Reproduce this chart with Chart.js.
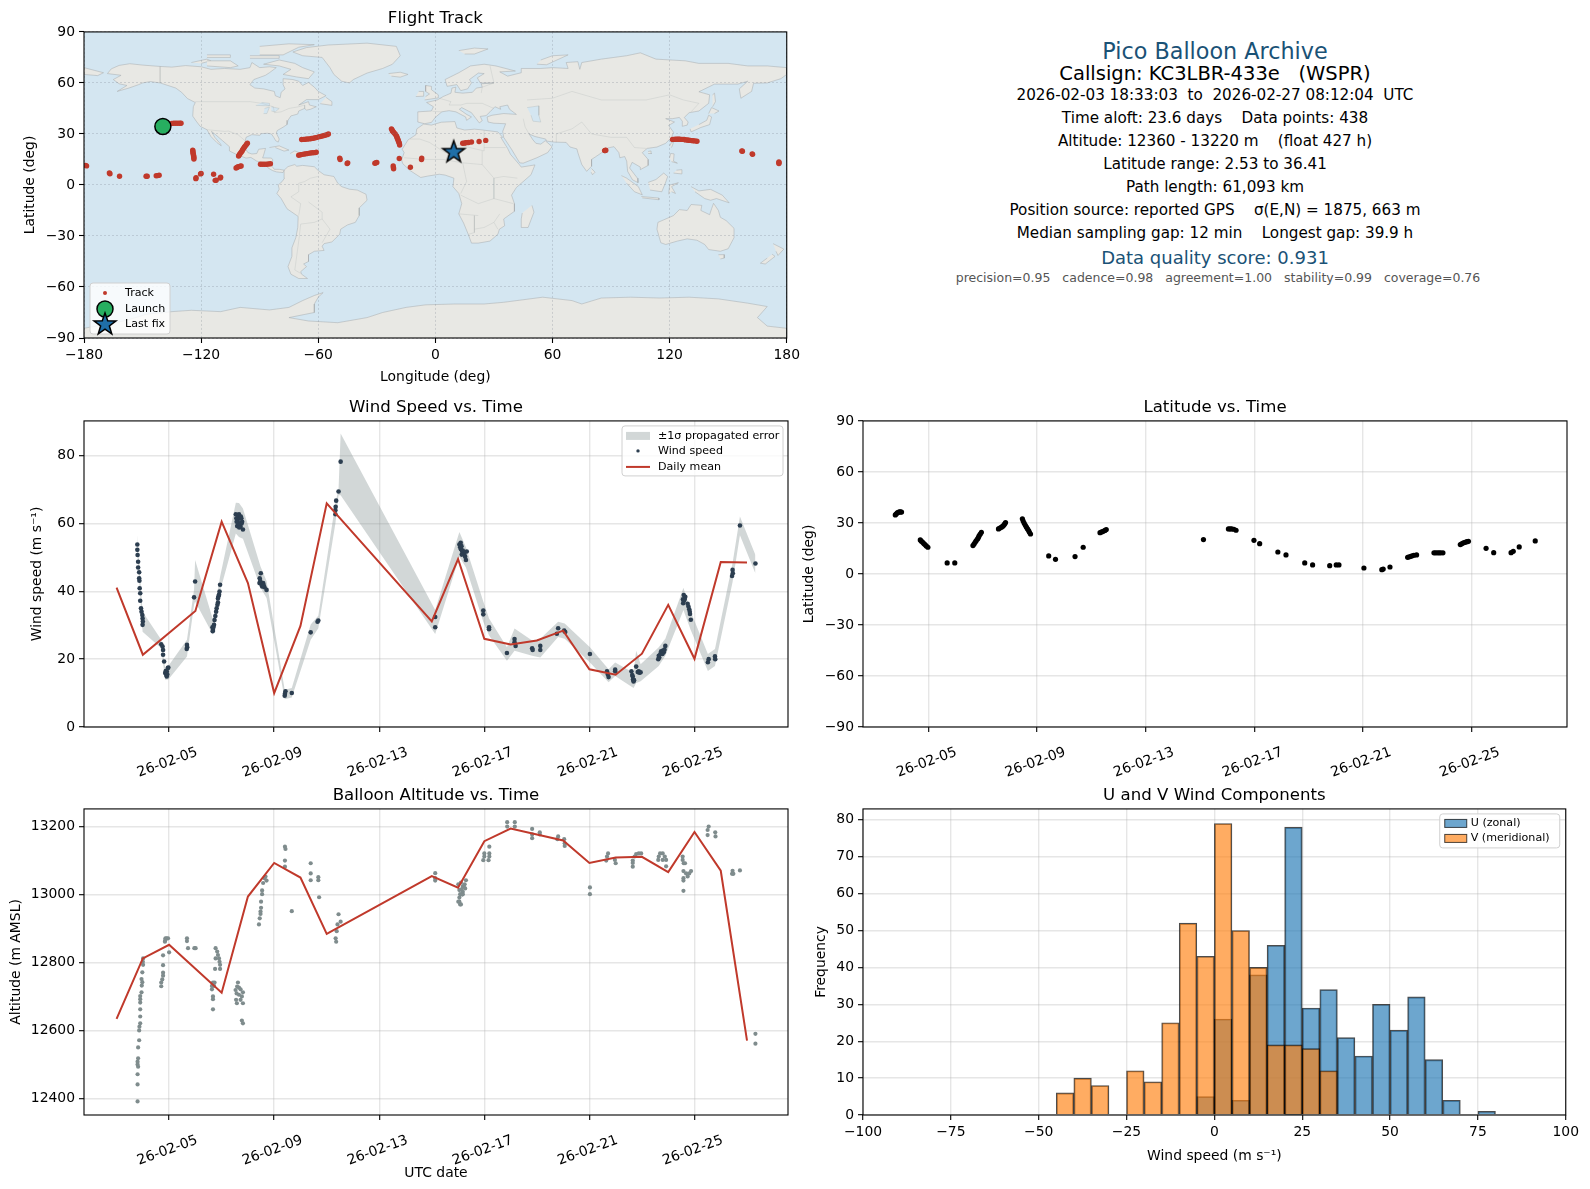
<!DOCTYPE html>
<html>
<head>
<meta charset="utf-8">
<title>Pico Balloon Archive</title>
<script src="https://cdn.jsdelivr.net/npm/chart.js"></script>
<style>
  html, body { margin: 0; padding: 0; background: #fff; }
  #page { position: relative; width: 1590px; height: 1189px; overflow: hidden; font-family: "DejaVu Sans", sans-serif; }
  canvas { position: absolute; }
  .info { position: absolute; left: 815px; width: 800px; text-align: center; white-space: pre; transform: translateY(-50%); line-height: 1; color: #000; }
</style>
</head>
<body>
<div id="page">
  <canvas id="mapChart"></canvas>
  <canvas id="windChart"></canvas>
  <canvas id="latChart"></canvas>
  <canvas id="altChart"></canvas>
  <canvas id="histChart"></canvas>
  <div class="info" style="top:51px;font-size:22.3px;color:#1a5276">Pico Balloon Archive</div>
  <div class="info" style="top:74px;font-size:19.5px">Callsign: KC3LBR-433e   (WSPR)</div>
  <div class="info" style="top:96px;font-size:15.2px">2026-02-03 18:33:03  to  2026-02-27 08:12:04  UTC</div>
  <div class="info" style="top:119px;font-size:15.2px">Time aloft: 23.6 days    Data points: 438</div>
  <div class="info" style="top:142px;font-size:15.2px">Altitude: 12360 - 13220 m    (float 427 h)</div>
  <div class="info" style="top:165px;font-size:15.2px">Latitude range: 2.53 to 36.41</div>
  <div class="info" style="top:188px;font-size:15.2px">Path length: 61,093 km</div>
  <div class="info" style="top:211px;font-size:15.2px">Position source: reported GPS    σ(E,N) = 1875, 663 m</div>
  <div class="info" style="top:234px;font-size:15.2px">Median sampling gap: 12 min    Longest gap: 39.9 h</div>
  <div class="info" style="top:257.5px;font-size:18px;color:#1a5276">Data quality score: 0.931</div>
  <div class="info" style="top:278px;margin-left:3px;font-size:12.5px;color:#555">precision=0.95   cadence=0.98   agreement=1.00   stability=0.99   coverage=0.76</div>
</div>
<script>
// times are day of February 2026 (5.5 = Feb 5, 12:00)
const dateTicks = [5, 9, 13, 17, 21, 25];
const dateTickLabels = ['26-02-05', '26-02-09', '26-02-13', '26-02-17', '26-02-21', '26-02-25'];
const lonTicks = [-180, -120, -60, 0, 60, 120, 180];
const latTicks = [-90, -60, -30, 0, 30, 60, 90];
const windTicks = [0, 20, 40, 60, 80];
const altTicks = [12400, 12600, 12800, 13000, 13200];
const histXTicks = [-100, -75, -50, -25, 0, 25, 50, 75, 100];
const histYTicks = [0, 10, 20, 30, 40, 50, 60, 70, 80];

// flight track, [lon, lat]
const launchFix = [-139.6, 34.4];
const lastFix = [9.4, 19.6];
const trackFixes = [
  [-139.6,34.4],[-138,35.5],[-136.5,36],[-135,36.2],[-134,36.3],[-133,36.3],[-132,36.3],[-131,36.3],[-130.3,36.3],
  [-124.3,20.5],[-124.2,19.8],[-124.2,19],[-124,18.3],[-123.9,17.5],[-123.8,16.8],[-123.7,16],[-123.7,15.3],
  [-100.8,17],[-100.4,17.8],[-100,18.5],[-99.5,19.2],[-99,20],[-98.7,20.8],[-98.3,21.5],[-97.8,22.3],[-97.3,23],[-96.8,23.8],[-96.3,24.5],
  [-89.6,12.2],[-88.6,12.2],[-87.6,12.2],[-86.5,12.2],[-85.5,12.3],[-84.5,12.5],
  [-102.1,10],[-101.5,10.4],[-101,10.7],[-100,11],[-99.5,11.2],
  [-68.5,26.7],[-67.5,26.8],[-66.5,26.9],[-65.5,27],[-64.5,27.1],[-63.5,27.3],[-62.5,27.5],[-61.5,27.8],[-60.5,28],[-59.5,28.4],[-58.5,28.6],[-57.5,28.9],[-56.5,29.2],[-55.5,29.6],[-54.8,30],
  [-70,17.5],[-69,17.8],[-68,18],[-67,18.2],[-66,18.4],[-65,18.6],[-64,18.8],[-63,18.9],[-62,19],[-61,19.2],
  [-49,15.8],[-48.8,15],[-45.2,12.6],[-44.9,13],[-31,12.8],[-30.5,13],[-30,13.2],
  [-22.5,33],[-22.2,32.4],[-22,31.8],[-21.5,31.2],[-21,30.5],[-20.5,29.8],[-20,29],[-19.7,28.2],[-19.5,27.5],[-19.2,26.7],[-19,26],[-18.7,25.2],[-18.5,24.5],[-18.3,23.5],
  [-21.6,11.2],[-21.5,10.2],[-21.4,9.5],[-18.5,15.6],[-12.8,10.4],[-7.1,15],[-7,15.8],
  [14,24.5],[14.8,24.6],[15.5,24.8],[16.3,24.9],[17,25],[18.5,25.3],[22.4,25.6],[25.8,26.2],
  [87,20.3],[86.7,20.2],[87.3,20.4],
  [121.5,26.8],[122.2,26.8],[123,26.9],[123.8,26.9],[124.5,26.9],[125.2,26.9],[126,26.8],[126.8,26.8],[127.5,26.7],[128.2,26.5],[129,26.4],[129.8,26.3],[130.5,26.2],[131.2,26.1],[132,26],[133,25.9],[134,25.7],
  [157.3,19.8],[157,20],[162.5,18],[162.3,18.3],[176,13.1],[176,12.6],[176,13.6],
  [-178.7,11.2],[-179.2,11.5],[-166.7,6.6],[-167,7.1],[-161.8,5.1],[-148.2,5.1],[-147.6,5.1],[-143,5.4],[-141.5,5.7],[-142.2,5.5],
  [-122.7,3.7],[-122.6,4.2],[-120.3,6.5],[-120,6.8],[-113.6,6.3],[-112.8,2.7],[-112.3,2.8],[-110,4.5],[-110.2,4.1]
];

// coastlines, [lon, lat]
const landNorthAmerica = [[-168,65.5],[-166,68.3],[-162,70.3],[-156.5,71.3],[-150,70.5],[-141,69.7],[-135,69.3],[-128,70.2],[-120,69.5],[-115,68],[-108,68.5],[-100,68],[-95,69],[-94,72],[-90,69],[-85,69.5],[-81.5,69],[-85,66],[-87,64.5],[-93,62],[-95,59],[-92.5,57],[-88,56.5],[-82.5,55],[-82,52.5],[-79.5,51.3],[-79,54.5],[-77,56.5],[-78,59],[-78,62.5],[-73,62],[-70,61],[-68,58.5],[-65,60.3],[-62,57.5],[-60,55],[-56,52.5],[-60,50.2],[-66,50.2],[-70,47],[-65,49],[-64.5,47],[-61,46],[-64,44.5],[-66,44],[-67,45],[-70,43.5],[-70.5,41.7],[-74,40.6],[-75.5,38],[-76,35.5],[-78,34],[-81,32],[-81.5,30.5],[-80,27],[-80.5,25.2],[-81.8,26],[-82.8,28],[-84,30],[-86,30.4],[-89,30.2],[-90,29.2],[-94,29.6],[-97,28],[-97.5,25],[-97.8,22.3],[-96,19],[-94,18.2],[-91.5,18.5],[-90.5,21],[-87,21.5],[-88,17.5],[-88.5,15.9],[-84,15.8],[-83.3,14.8],[-83.7,11],[-82.5,9.2],[-80,9.2],[-77.5,8.7],[-78,7.3],[-80,7.5],[-81.5,7.7],[-83.5,8.5],[-85.7,10],[-87.5,13],[-91.5,14],[-94.5,16.2],[-97,15.8],[-102,18],[-105.5,20],[-105.5,22.5],[-109,26],[-112.5,29.5],[-114.7,31.5],[-113,28],[-110,24],[-109.7,23],[-112,25],[-115,28.5],[-117,32.5],[-120.5,34.5],[-122.5,37.5],[-124.3,40.5],[-124,46],[-123,48.5],[-127,50.8],[-130,54.5],[-133,57],[-137,58.5],[-141,60],[-146,60.8],[-150,60],[-152,59],[-157,57],[-163,55],[-158,58.5],[-162,59.5],[-165,62],[-161,64.5],[-168,65.5]];
const landSouthAmerica = [[-77.5,8.7],[-75.5,10.8],[-72,12],[-71,11],[-68,11.5],[-62,10.7],[-60,8.5],[-57,6],[-52,5],[-50,1],[-48,-1],[-44,-2.5],[-40,-3],[-35.5,-5.5],[-35,-9],[-39,-13.5],[-39,-18],[-41,-22],[-45,-23.5],[-48.5,-26],[-49,-29],[-53,-33.5],[-57,-34.5],[-58,-36],[-57,-38.5],[-62,-39],[-65,-41],[-65,-45],[-67.5,-46.5],[-66,-48],[-69,-51],[-68.5,-52.5],[-65.5,-55],[-70,-55],[-74,-52.5],[-75.5,-48],[-73.5,-42],[-73.5,-37],[-71.5,-31],[-70.5,-25],[-70.3,-18.5],[-76,-14],[-79,-8],[-81.2,-5],[-80,-2.5],[-80.5,0],[-78.5,2],[-77.3,4],[-77.5,7],[-77.5,8.7]];
const landAfrica = [[-6,35.8],[-2,35.2],[3,36.9],[10,37.3],[11,33.5],[15,32.3],[20,32.8],[23,32.5],[32,31.2],[34.5,28],[33.5,28],[37,21.5],[38.5,18],[43,12],[44,10.5],[51,11.8],[49,6],[41.5,-1.5],[39,-6],[40.5,-11],[40.5,-15.5],[35,-20],[35.5,-24],[32.8,-26],[32,-29],[28,-33],[22,-34.2],[18.5,-34.2],[17,-29.5],[14.5,-22.5],[12,-17],[13.5,-11],[12,-5],[9,-1],[9.5,4],[5,5.8],[2,6.3],[-4,5.2],[-7.5,4.4],[-13,8.5],[-16.7,12.5],[-17.3,14.7],[-16,19],[-17,21],[-14,26.5],[-10,29.5],[-9.5,33],[-6,35.8]];
const landEurasia = [[-9,37],[-9,43],[-2,43.5],[-1,46],[-4.5,48.5],[1,50],[4,52],[8,54],[8.5,57],[10.5,57.5],[10,54.5],[14,54],[19,54.5],[21,57],[24,57.5],[23.5,59.5],[30,60],[23,60],[21.5,63],[25,65.5],[22,65.8],[17.5,62],[18.5,60],[16.5,56.5],[13,55.5],[11,59],[6,58],[5,62],[12,66],[18,70],[25,71],[31,70],[41,67],[33,66.5],[37,64],[44,66],[44,68.5],[54,68.5],[60,69],[68,68.5],[67,72],[73,72.5],[74,68],[75,72],[85,74],[98,76],[105,77.7],[113,74],[128,73],[135,71.5],[150,71.5],[160,70],[170,70],[180,69],[180,65],[177,62.5],[170,60],[163,59.8],[162,55],[156.5,51],[155.7,56.5],[160,61],[155,59.3],[143,59.3],[135,54.8],[140.5,53],[140,48],[135,43.5],[130,42.5],[127.5,39.7],[129.5,37],[129,35.2],[126.5,34.5],[126.5,37.5],[125,39.7],[121.5,39],[118,39],[122.5,37],[119.5,35],[122,31],[121,28],[118,24.5],[113.5,22.3],[108.5,21.5],[106,19],[109,15],[109,11.5],[105,9],[105,10.5],[100.8,13.3],[99.5,10],[103.5,4],[103.8,1.4],[101,3],[98.5,8],[98,14],[97,16.7],[94.5,16],[94,19],[91.5,22.5],[88.5,21.8],[86.5,20],[82,16.5],[80,15],[80,11],[77.5,8],[75,12],[73,19],[72.5,21.2],[69,22.3],[67,25],[61,25.2],[57,25.8],[56.5,27],[51,28.5],[48,30],[50,26.5],[51.5,24.5],[54,24],[56.3,26],[59.8,22.5],[57.5,19],[52,16],[45,12.8],[43.2,13],[39,21],[35,28],[34.5,31.5],[36,36],[30,36.3],[27,37],[26.5,40],[29,41],[35,42],[41.5,41.5],[38,44.5],[37,47],[33,46],[33.5,44.5],[30.5,46],[28,43],[26,40.8],[23,40.3],[24,37.8],[22.5,36.5],[19.5,41],[18.5,42.5],[13.5,45.5],[12.3,44.5],[16,41.5],[18.5,40],[16,38],[15.5,40],[10.5,43],[7,43.7],[3.3,43],[0,39.8],[-2,36.8],[-5.5,36],[-9,37]];
const landAustralia = [[114,-22],[113.5,-26],[115.5,-34],[118,-35],[124,-33],[129,-31.7],[134,-32.5],[138,-35],[140,-38],[146,-39],[150,-37.5],[153,-31],[153,-25.5],[149,-21],[146,-19],[145,-15],[142.5,-10.8],[141.5,-14],[140.5,-17.5],[136,-15],[136.5,-12],[131,-11.5],[129,-15],[125,-14.5],[122,-18],[117,-20.5],[114,-22]];
const landAntarctica = [[-180,-90],[-180,-84.3],[-160,-80],[-155,-78.5],[-148,-76],[-135,-74.5],[-125,-73.7],[-110,-74.5],[-100,-72],[-85,-73.5],[-75,-72],[-68,-68],[-62,-65],[-57.5,-63.3],[-60,-66],[-62,-70],[-62,-75],[-75,-78],[-65,-80],[-50,-81],[-35,-78],[-27,-75],[-15,-72],[-5,-70.5],[10,-70],[25,-70],[35,-69],[45,-67.5],[55,-66],[70,-68],[75,-70],[85,-66.5],[100,-66],[115,-66.5],[130,-66],[145,-67],[160,-69.5],[170,-71.5],[165,-78],[170,-83],[180,-84.3],[180,-90]];
const landIslands = [
  [[-73,78.2],[-66,80.8],[-55,82.3],[-35,83.4],[-20,81.5],[-18,76],[-22,71],[-27,68.5],[-35,65.8],[-42,62],[-44,60],[-48,61],[-52,65],[-54,69],[-58,75],[-68,76],[-73,78.2]],
  [[-80,73.5],[-72,71.5],[-68,69],[-62,66.5],[-65,62.5],[-71,63.5],[-78,65],[-74,68],[-80,70],[-88,71],[-80,73.5]],
  [[-117,70],[-105,69],[-101,70],[-105,73],[-117,73]],
  [[-125,72],[-117,74],[-115,73],[-120,71.5]],
  [[-90,76.5],[-78,76.5],[-70,81],[-62,82.5],[-75,83],[-90,81.5]],
  [[-95,74.5],[-80,74.5],[-80,76],[-95,76]],
  [[-117,75],[-105,75],[-105,76.5],[-117,76.5]],
  [[-59,47.8],[-53,46.8],[-53,49],[-56,51.5]],
  [[-85,22],[-80,23],[-75,20.5],[-77.5,19.9],[-82,22]],
  [[-74.4,18.5],[-72,20],[-68.5,18.5],[-71,18]],
  [[49.5,-12],[50.5,-16],[47.5,-25],[44,-25],[44,-20],[44.5,-16.5]],
  [[-5.5,50],[1.5,51.2],[1.5,53],[-2,56],[-2,58],[-5,58.5],[-5,55],[-3,53.5],[-5,52]],
  [[-10,52],[-6,52.2],[-6,55],[-8.5,55]],
  [[-24,65.5],[-18,66.3],[-14,65],[-18,63.4],[-22.5,64]],
  [[12,79],[20,80.5],[27,80],[20,77],[15,77]],
  [[52,71],[57,70.7],[68,76.5],[60,76],[54,73.5]],
  [[130.5,33],[131,31.2],[136,33.8],[140.5,35.5],[141.5,40],[140,41],[139,38],[135,35.5]],
  [[140,42],[141.5,45.5],[145.3,43.5],[143,42]],
  [[142,46],[143.5,49],[143,54],[142,53]],
  [[120,23],[121,25],[122,25],[121,22]],
  [[109,18.5],[110.8,18.5],[110.5,20],[109,19.7]],
  [[120,16],[120.5,18.5],[122.3,18.3],[122,14],[124,12.8],[121,13.7]],
  [[122,7],[126,6.5],[126.3,9],[123.5,8.7]],
  [[80,9.7],[81.8,7.5],[80.5,6],[79.8,7.5]],
  [[95.3,5.5],[98,4],[104,-1],[106,-5.8],[102,-4],[98,1]],
  [[105.5,-6.8],[114.5,-7.7],[114.5,-8.7],[106,-7.6]],
  [[109,1.5],[113,3.2],[117,7],[119,5],[117.8,1],[116,-4],[110,-3]],
  [[119.5,-5.5],[120,0],[124.5,1.3],[121,-1],[123,-5],[121,-4]],
  [[131,-1],[135,-3.5],[141,-2.6],[147,-6],[150.5,-10.5],[144,-8],[141,-9],[138,-8],[133,-4]],
  [[145,-41],[148,-41],[148,-43],[146,-43.5]],
  [[173,-34.5],[178.5,-37.7],[175.5,-41.5],[174.5,-39]],
  [[172.5,-40.7],[174,-42],[169,-46.5],[166.5,-46],[170,-43]],
  [[-180,69],[-175,67.5],[-170,66],[-173,64.3],[-180,65]]
];
const lakes = [
  [[47,45.5],[53,46.5],[53,41],[54,37],[50,37.5],[49,41]],
  [[-92,46.8],[-85,46.5],[-85,48],[-89,48.5]],
  [[-88,42],[-86.3,42],[-85,45.8],[-87.5,45]],
  [[-84,43.5],[-82,43],[-80,45],[-84,46]]
];
const borderLines = [
  [[-123,49],[-95,49],[-89,48],[-83,46],[-82.5,42.5],[-79,43],[-75,45],[-70,46],[-67,47],[-67,45]],
  [[-141,69.7],[-141,60]],
  [[-117,32.5],[-108,31.5],[-106,31.7],[-101,29.5],[-97.5,26]],
  [[-70,-18],[-69,-11],[-74,-7],[-70,-4],[-70,1],[-67,2],[-64,4],[-60,5]],
  [[-58,-20],[-62,-22],[-69,-23],[-70,-33],[-72,-50],[-69,-52]],
  [[-58,-20],[-58,-16],[-65,-10]],
  [[-58,-34],[-54,-26],[-58,-20]],
  [[3,43],[-1.5,43.3]],
  [[2,51],[8,49],[7,47],[13,47],[16,48],[24,48],[30,45]],
  [[28,70],[30,60],[24,57.5],[23.5,54]],
  [[47,50],[60,51],[70,55],[85,50],[98,50],[108,50],[120,53],[127,50],[135,48],[131,43]],
  [[75,37],[80,30],[90,28],[98,28],[102,22],[108,21.5]],
  [[62,25],[62,30],[70,33],[75,37]],
  [[45,39],[46,34],[48,30]],
  [[-13,27],[-8,27],[-3,25],[5,19],[12,23.5],[25,20],[25,32]],
  [[25,22],[36,22]],
  [[-16,16],[-5,15],[4,15],[14,13],[24,12],[24,20]],
  [[14,13],[16,2],[13,-5]],
  [[24,12],[30,4],[35,5],[42,4]],
  [[30,4],[30,-8],[22,-11],[13,-6]],
  [[30,-8],[40,-11]],
  [[22,-18],[12,-17]],
  [[20,-18],[20,-28],[17,-29]],
  [[30,-22],[25,-25],[20,-26]],
  [[32,-26],[30,-22],[33,-17]]
];

// wind speed panel, [day, m/s]
const windPoints = [
  [3.79,53.8],[3.79,52.2],[3.80,50.7],[3.82,48.7],[3.82,47],[3.86,45.6],[3.86,43.8],[3.87,43.1],[3.88,40.9],[3.90,39.4],[3.90,37.2],[3.93,35],[3.95,34],[3.98,33],[3.99,32],[4.00,31.1],[3.99,30.1],
  [4.70,24.4],[4.75,23.7],[4.77,22.7],[4.77,21.3],[4.81,19.3],[4.97,17.5],[4.91,16.4],[4.85,15.9],[4.91,14.9],[4.89,15.4],[4.93,15.5],[4.87,16.5],[4.95,17.4],
  [5.68,24.2],[5.69,23.5],[5.67,23],[5.95,38.2],[5.99,42.9],
  [6.67,28.6],[6.71,30.1],[6.65,29.4],[6.76,32.7],[6.81,35],[6.86,36.7],[6.86,37.9],[6.92,39.9],[6.94,41.9],[6.69,29.5],[6.66,28.2],[6.73,31.5],[6.79,34],[6.84,36],[6.88,38.5],[6.9,39],
  [7.54,62.7],[7.66,62.7],[7.75,61.5],[7.69,60],[7.59,59.2],[7.81,58.2],[7.78,60.5],[7.61,61],[7.72,59],[7.56,61.5],[7.63,61.8],[7.70,61.5],[7.73,62],[7.76,60],[7.64,59.8],[7.57,60.5],[7.67,58.8],
  [8.49,45.3],[8.45,43.8],[8.44,42.4],[8.58,42.4],[8.54,41.4],[8.63,41.2],[8.71,40.4],[8.47,43],[8.52,42],[8.57,41.7],[8.6,41.8],
  [9.43,10.5],[9.40,9.2],[9.41,9.8],[9.67,10],[10.39,27.9],[10.68,31.4],[10.65,31],
  [11.33,62.7],[11.34,64.9],[11.33,63.9],[11.36,66.7],[11.45,69.4],[11.53,78.2],
  [15.13,32.4],[15.13,29.4],
  [16.05,53.8],[16.10,54.3],[16.11,52.4],[16.20,51.2],[16.27,50.2],[16.30,49.2],[16.16,51.7],[16.33,51.7],[16.08,53],[16.13,53.3],[16.18,52],[16.24,51],[16.14,50.8],
  [16.96,34.3],[16.96,33.2],[17.18,29.4],[17.18,28.8],[17.86,21.8],
  [18.15,25.9],[18.15,25],[18.19,23.9],[18.82,23.2],[18.84,22.7],[19.13,23.9],[19.13,22.7],
  [19.81,29.1],[19.76,27.5],[20.04,28.4],[20.08,28],[21.02,21.5],
  [21.67,16.4],[21.73,14.7],[21.70,15.5],[21.98,16.9],[21.98,16.4],
  [22.60,16.4],[22.65,14.9],[22.68,13.4],[22.78,17.8],[22.88,16.4],[22.95,16.1],[22.63,15.3],[22.66,14],[22.70,13.8],[22.9,16],[22.84,16.2],
  [23.62,20],[23.64,21],[23.73,22.3],[23.83,22],[23.89,23.9],[23.66,20.5],[23.7,21.5],[23.78,21.5],[23.86,22.8],[23.8,22.5],
  [24.56,37.6],[24.59,38.9],[24.65,38.4],[24.57,36.5],[24.74,36.3],[24.80,34.7],[24.83,33.3],[24.86,31.6],[24.6,37.2],[24.63,37.7],[24.77,35.5],[24.82,34],
  [25.51,19.1],[25.54,20],[25.78,20.8],[25.79,20],
  [26.45,46.3],[26.43,44.5],[26.46,45.3],[26.73,59.4],[27.32,48.2]
];
const bandTimes = [3.79,3.99,4.70,4.85,4.97,5.68,5.95,5.99,6.67,6.94,7.54,7.66,7.81,8.48,8.71,9.40,9.67,10.39,10.68,11.33,11.45,11.53,15.13,16.05,16.30,16.96,17.18,17.86,18.15,18.82,19.13,19.81,20.06,21.02,21.73,21.98,22.68,22.78,22.95,23.64,23.89,24.58,24.86,25.51,25.78,26.45,26.73,27.32];
const bandUpper = [56.6,34,25.7,17.4,18,25.7,40.5,49.2,31.6,44.3,66.1,66,64.4,47.3,43,11,11.5,30.2,32.8,66,70.1,86.5,34.5,57.5,53,37,32,23.5,29,25.5,26,31,30.5,23.5,17,19,16,22.5,18.5,23.5,26,41,34,21.5,23,48.3,62,50.7];
const bandLower = [51,28.1,23.2,13.9,14,20.8,36,37,27.2,40,57,56,55.5,41,38,8.2,8.7,25.7,29.1,60,68.3,68.3,27.4,50.2,47,31,27,19.5,22.5,21,20.5,26.5,26,19,13.2,15,11.5,13,13.5,18,21,34.5,28.5,16.5,18,42.7,56.5,45.2];
const windMeanDays = [3,4,6,7,8,9,10,11,15,16,17,18,19,20,21,22,23,24,25,26,27];
const windMean = [41.1,21.3,34.2,60.5,42.4,10,29.8,65.9,31.1,49.5,26,24.3,25.5,28.4,17,15.4,21.6,36,20.1,48.6,48.5];

// latitude panel, [day, deg]
const latPoints = [
  [3.78,34.7],[3.81,35.2],[3.85,35.9],[3.89,36.3],[3.93,36.5],[3.97,36.5],[4.01,36.4],
  [4.70,20],[4.74,19.3],[4.79,18.6],[4.83,17.9],[4.87,17.3],[4.92,16.5],[4.98,15.7],[5.69,6.5],[5.97,6.5],
  [6.64,16.7],[6.68,17.6],[6.72,18.6],[6.76,19.6],[6.81,20.6],[6.84,21.5],[6.87,22.5],[6.91,23.5],[6.95,24.5],
  [7.58,26.5],[7.63,27],[7.69,27.5],[7.74,28.1],[7.78,28.8],[7.81,29.5],[7.84,30.2],
  [8.46,32.4],[8.49,31.1],[8.53,29.8],[8.57,28.6],[8.61,27.5],[8.65,26.5],[8.69,25.5],[8.72,24.5],[8.76,23.5],
  [9.43,10.6],[9.68,8.6],[10.40,10.2],[10.70,15.7],
  [11.32,24.3],[11.38,24.7],[11.44,25.1],[11.50,25.6],[11.55,26.1],[15.13,20.2],
  [16.05,26.5],[16.11,26.5],[16.17,26.5],[16.25,26.3],[16.33,25.7],
  [16.99,19.8],[17.2,17.8],[17.87,12.9],[18.17,11.2],[18.86,6.5],[19.15,5.3],
  [19.78,4.9],[20.02,5.3],[20.12,5.3],[21.04,3.5],[21.7,2.5],[21.75,2.9],[22,4.1],
  [22.65,9.8],[22.71,10.1],[22.77,10.4],[22.82,10.7],[22.88,11],[22.98,11.2],
  [23.62,12.4],[23.68,12.4],[23.75,12.4],[23.81,12.4],[23.87,12.4],[23.95,12.4],
  [24.59,17.3],[24.64,17.7],[24.69,18.2],[24.74,18.5],[24.79,18.8],[24.84,19],[24.89,19.2],
  [25.54,15.1],[25.82,12.5],[26.46,12.5],[26.54,13.3],[26.76,15.9],[27.35,19.4]
];

// altitude panel, [day, m]
const altPoints = [
  [3.80,12391],[3.80,12441],[3.80,12471],[3.82,12493],[3.80,12508],[3.82,12518],[3.80,12500],[3.82,12550],[3.86,12571],[3.86,12600],[3.87,12611],[3.90,12621],[3.90,12641],[3.90,12662],[3.90,12682],[3.90,12692],[3.90,12701],[3.95,12712],[3.96,12732],[3.98,12742],[3.95,12751],[3.98,12771],[4.01,12793],[4.00,12802],[4.01,12812],
  [4.70,12730],[4.70,12741],[4.74,12750],[4.77,12761],[4.77,12770],[4.77,12792],[4.77,12821],
  [4.84,12861],[4.86,12871],[4.96,12871],[4.91,12871],[5.00,12830],[4.85,12865],
  [5.68,12871],[5.68,12863],[5.72,12842],[5.96,12842],[6.01,12842],
  [6.67,12662],[6.67,12692],[6.67,12700],[6.63,12721],[6.63,12731],[6.67,12741],[6.73,12741],[6.71,12731],
  [6.77,12842],[6.83,12832],[6.86,12822],[6.77,12812],[6.90,12812],[6.92,12802],[6.94,12793],[6.94,12781],[6.75,12781],
  [7.62,12741],[7.59,12729],[7.66,12726],[7.72,12721],[7.81,12712],[7.53,12719],[7.57,12709],[7.66,12705],[7.77,12700],[7.55,12690],[7.72,12690],[7.81,12680],[7.58,12680],[7.77,12629],[7.81,12621],
  [8.42,12912],[8.45,12930],[8.48,12943],[8.48,12950],[8.50,12961],[8.50,12979],[8.54,13001],[8.54,13012],[8.58,13034],[8.63,13048],[8.71,13041],[8.67,13053],
  [9.41,13141],[9.43,13134],[9.41,13100],[9.41,13082],[9.67,12951],
  [10.39,13092],[10.39,13062],[10.39,13042],[10.68,13051],[10.68,13042],[10.71,12992],
  [11.45,12942],[11.53,12920],[11.41,12912],[11.38,12892],[11.34,12871],[11.36,12861],
  [15.13,13063],[15.13,13041],[15.13,13048],
  [16.30,13042],[16.01,13030],[16.18,13023],[16.27,13018],[16.05,13013],[16.18,13008],[16.08,13001],[16.18,13001],[16.05,12991],[16.01,12979],[16.05,12979],[16.08,12971],[16.11,12971],
  [16.13,13015],[16.22,13025],[16.11,13035],[16.16,13000],[16.25,13030],
  [17,13121],[17,13112],[16.96,13101],[17.19,13141],[17.19,13121],[17.19,13112],[17.16,13101],
  [17.87,13213],[17.87,13200],[18.16,13213],[18.16,13200],
  [18.82,13193],[18.82,13177],[18.82,13166],[19.11,13183],[19.11,13177],
  [19.81,13171],[19.78,13163],[20.04,13163],[20.06,13151],[20.06,13143],
  [21.02,13021],[21.02,13001],
  [21.71,13121],[21.67,13112],[21.64,13100],[21.97,13102],[22,13092],
  [22.65,13100],[22.65,13093],[22.65,13082],[22.72,13112],[22.78,13119],[22.88,13121],[22.97,13121],
  [23.62,13102],[23.64,13112],[23.69,13121],[23.79,13121],[23.87,13112],[23.92,13102],[23.79,13102],[23.92,13083],
  [24.55,13112],[24.55,13102],[24.59,13092],[24.64,13092],[24.58,13069],[24.68,13062],[24.74,13053],[24.87,13069],[24.80,13062],[24.58,13048],[24.58,13041],[24.58,13011],
  [25.54,13200],[25.50,13190],[25.50,13175],[25.79,13183],[25.80,13171],
  [26.45,13070],[26.43,13061],[26.48,13061],[26.73,13071],
  [27.32,12590],[27.32,12561]
];
const altMeanDays = [3,4,5,7,8,9,10,11,15,16,17,18,19,20,21,22,23,24,25,26,27];
const altMean = [12634,12812,12852,12711,12994,13093,13050,12884,13054,13020,13157,13194,13177,13159,13093,13109,13111,13066,13184,13070,12570];

// histogram, 5 m/s bins, value is the bin centre
const binCentres = [-42.5,-37.5,-32.5,-27.5,-22.5,-17.5,-12.5,-7.5,-2.5,2.5,7.5,12.5,17.5,22.5,27.5,32.5,37.5,42.5,47.5,52.5,57.5,62.5,67.5,72.5,77.5];
const uCounts = [0,0,0,0,0,0,0,0,5,26,4,38,46,78,29,34,21,16,30,23,32,15,4,0,1];
const vCounts = [6,10,8,0,12,9,25,52,43,79,50,40,19,19,18,12,0,0,0,0,0,0,0,0,0];

const FONT = '"DejaVu Sans", sans-serif';
const RED = '#c0392b';
Chart.defaults.font.family = FONT;
Chart.defaults.color = '#000';
Chart.defaults.animation = false;

const pairs = list => list.map(p => ({ x: p[0], y: p[1] }));
const zip = (xs, ys) => xs.map((x, i) => ({ x: x, y: ys[i] }));
const minus = v => String(v).replace('-', '\u2212');

// filled star used for the last fix, Chart.js 'star' is only an asterisk
function starSprite() {
  const c = document.createElement('canvas');
  c.width = c.height = 28;
  const g = c.getContext('2d');
  g.beginPath();
  for (let i = 0; i < 10; i++) {
    const r = i % 2 ? 4.6 : 11.5;
    const a = -Math.PI / 2 + i * Math.PI / 5;
    g.lineTo(14 + r * Math.cos(a), 14.5 + r * Math.sin(a));
  }
  g.closePath();
  g.fillStyle = '#1f6fa8';
  g.fill();
  g.lineWidth = 1.5;
  g.strokeStyle = '#000';
  g.stroke();
  return c;
}
const STAR = starSprite();

// all four spines, ocean colour, legend inside the axes
const panelPlugin = {
  id: 'panel',
  beforeDraw(chart, args, opts) {
    if (!opts.background) return;
    const a = chart.chartArea;
    chart.ctx.fillStyle = opts.background;
    chart.ctx.fillRect(a.left, a.top, a.width, a.height);
  },
  afterDraw(chart, args, opts) {
    const ctx = chart.ctx, a = chart.chartArea;
    ctx.save();
    ctx.strokeStyle = '#000';
    ctx.lineWidth = 1.1;
    ctx.strokeRect(a.left, a.top, a.width, a.height);
    if (opts.legend) drawLegend(ctx, a, opts.legend);
    ctx.restore();
  }
};

function drawLegend(ctx, a, lg) {
  const x = lg.right != null ? a.right - lg.right - lg.w : a.left + lg.left;
  const y = lg.top != null ? a.top + lg.top : a.bottom - lg.bottom - lg.h;
  ctx.beginPath();
  ctx.roundRect(x, y, lg.w, lg.h, 3);
  ctx.fillStyle = 'rgba(255,255,255,0.8)';
  ctx.fill();
  ctx.strokeStyle = '#d0d0d0';
  ctx.lineWidth = 1;
  ctx.stroke();
  ctx.font = '11.1px ' + FONT;
  ctx.textBaseline = 'middle';
  ctx.textAlign = 'left';
  lg.items.forEach(it => {
    const cy = y + it.dy, sx = x + lg.swatchX, sw = lg.swatchW, mid = sx + sw / 2;
    if (it.kind === 'box') {
      ctx.fillStyle = it.color;
      ctx.fillRect(sx, cy - 4, sw, 8);
      if (it.edge) { ctx.strokeStyle = it.edge; ctx.lineWidth = 1; ctx.strokeRect(sx, cy - 4, sw, 8); }
    } else if (it.kind === 'line') {
      ctx.strokeStyle = it.color;
      ctx.lineWidth = 2;
      ctx.beginPath(); ctx.moveTo(sx, cy); ctx.lineTo(sx + sw, cy); ctx.stroke();
    } else if (it.kind === 'dot' || it.kind === 'circle') {
      ctx.beginPath();
      ctx.arc(mid, cy, it.r, 0, Math.PI * 2);
      ctx.fillStyle = it.color;
      ctx.fill();
      if (it.kind === 'circle') { ctx.lineWidth = 1.5; ctx.strokeStyle = '#000'; ctx.stroke(); }
    } else if (it.kind === 'star') {
      ctx.drawImage(STAR, mid - STAR.width / 2, cy - STAR.height / 2);
    }
    ctx.fillStyle = '#000';
    ctx.fillText(it.label, x + lg.textX, cy);
  });
}

// y scale width and x scale height are pinned so every plot lands where the reference has it
const Y_BOX = 84;
const TITLE_BOX = 23;
function makeScale(o) {
  const s = {
    type: 'linear',
    bounds: 'data',
    min: o.min,
    max: o.max,
    offset: false,
    grid: Object.assign({ offset: false, color: 'rgba(176,176,176,0.32)', lineWidth: 1.4, tickColor: '#000', tickLength: 5, tickWidth: 1.1 }, o.grid),
    border: Object.assign({ display: false }, o.border),
    ticks: {
      autoSkip: false,
      font: { size: 13.9 },
      color: '#000',
      padding: 4,
      callback: o.format || minus
    },
    afterBuildTicks(scale) { scale.ticks = o.ticks.map(v => ({ value: v })); }
  };
  if (o.rotate) {
    s.ticks.minRotation = s.ticks.maxRotation = 20;
    s.ticks.labelOffset = 28;
    s.ticks.padding = 12;
  }
  // Chart.js measures a bottom title from padding.bottom and a left title from padding.top
  if (o.title) s.title = { display: true, text: o.title, font: { size: 13.9 }, color: '#000', padding: o.height ? { top: 0, bottom: o.titlePad } : { top: o.titlePad, bottom: 0 } };
  if (o.height) s.afterFit = scale => { scale.height = o.height; };
  else s.afterFit = scale => { scale.width = Y_BOX; };
  return s;
}
const dateLabel = v => dateTickLabels[dateTicks.indexOf(v)];

function makeChart(id, box, title, cfg) {
  const canvas = document.getElementById(id);
  const H = TITLE_BOX + 306 + cfg.xHeight;
  canvas.width = 804;
  canvas.height = H;
  canvas.style.left = box.left + 'px';
  canvas.style.top = (box.top - TITLE_BOX) + 'px';
  canvas.style.width = '804px';
  canvas.style.height = H + 'px';
  return new Chart(canvas, {
    type: cfg.type,
    data: { datasets: cfg.datasets },
    options: {
      responsive: false,
      devicePixelRatio: 1,
      layout: { autoPadding: false, padding: { left: 0, right: 16, top: 0, bottom: 0 } },
      scales: cfg.scales,
      plugins: {
        legend: { display: false },
        tooltip: { enabled: false },
        title: { display: true, text: title, fullSize: false, color: '#000', font: { size: 16.6, weight: 'normal', lineHeight: 1.2 }, padding: { top: 0, bottom: 3 } },
        panel: cfg.panel || {}
      }
    },
    plugins: [panelPlugin]
  });
}

function dotSet(points, color, r) {
  return { data: pairs(points), backgroundColor: color, borderColor: color, borderWidth: 0, pointRadius: r, showLine: false };
}
function meanLine(days, values) {
  return { data: zip(days, values), showLine: true, borderColor: RED, borderWidth: 2, pointRadius: 0, fill: false, tension: 0 };
}

// ---- flight track
const landStyle = { showLine: true, fill: 'shape', backgroundColor: '#e8e8e4', borderColor: 'rgba(165,170,172,0.7)', borderWidth: 0.7, pointRadius: 0 };
const lakeStyle = { showLine: true, fill: 'shape', backgroundColor: '#d4e6f1', borderColor: 'rgba(165,170,172,0.6)', borderWidth: 0.5, pointRadius: 0 };
const borderStyle = { showLine: true, fill: false, borderColor: 'rgba(170,175,175,0.32)', borderWidth: 0.8, pointRadius: 0 };
const landShapes = [landNorthAmerica, landSouthAmerica, landAfrica, landEurasia, landAustralia, landAntarctica].concat(landIslands);
const mapGrid = { z: 1, color: 'rgba(120,130,140,0.35)', lineWidth: 0.8 };

makeChart('mapChart', { left: 0, top: 32 }, 'Flight Track', {
  type: 'scatter',
  xHeight: 50,
  datasets: [
    { data: pairs([lastFix]), pointStyle: STAR, pointRadius: 10, showLine: false },
    { data: pairs([launchFix]), backgroundColor: '#27ae60', borderColor: '#000', borderWidth: 1.5, pointRadius: 8, showLine: false },
    dotSet(trackFixes, RED, 2.7)
  ].concat(
    borderLines.map(l => Object.assign({ data: pairs(l) }, borderStyle)),
    lakes.map(l => Object.assign({ data: pairs(l) }, lakeStyle)),
    landShapes.map(l => Object.assign({ data: pairs(l) }, landStyle))
  ),
  scales: {
    x: makeScale({ min: -180, max: 180, ticks: lonTicks, title: 'Longitude (deg)', titlePad: 2.5, height: 50, grid: mapGrid, border: { dash: [2, 2] } }),
    y: makeScale({ min: -90, max: 90, ticks: latTicks, title: 'Latitude (deg)', titlePad: 22, grid: mapGrid, border: { dash: [2, 2] } })
  },
  panel: {
    background: '#d4e6f1',
    legend: {
      left: 6, bottom: 4, w: 80, h: 51, swatchX: 3, swatchW: 24, textX: 35,
      items: [
        { kind: 'dot', color: RED, r: 2, label: 'Track', dy: 10 },
        { kind: 'circle', color: '#27ae60', r: 8, label: 'Launch', dy: 26 },
        { kind: 'star', label: 'Last fix', dy: 41 }
      ]
    }
  }
});

// ---- wind speed
makeChart('windChart', { left: 0, top: 421 }, 'Wind Speed vs. Time', {
  type: 'scatter',
  xHeight: 60,
  datasets: [
    meanLine(windMeanDays, windMean),
    dotSet(windPoints, '#2c3e50', 2.3),
    { data: zip(bandTimes, bandUpper), showLine: true, fill: '+1', backgroundColor: 'rgba(127,140,141,0.35)', borderWidth: 0, pointRadius: 0 },
    { data: zip(bandTimes, bandLower), showLine: true, fill: false, borderWidth: 0, pointRadius: 0 }
  ],
  scales: {
    x: makeScale({ min: 1.76, max: 28.56, ticks: dateTicks, format: dateLabel, rotate: true, height: 60 }),
    y: makeScale({ min: 0, max: 90.2, ticks: windTicks, title: 'Wind speed (m s\u207B\u00B9)', titlePad: 29 })
  },
  panel: {
    legend: {
      right: 5, top: 5, w: 161, h: 50, swatchX: 4, swatchW: 24, textX: 36,
      items: [
        { kind: 'box', color: 'rgba(127,140,141,0.35)', label: '\u00B11\u03C3 propagated error', dy: 10 },
        { kind: 'dot', color: '#2c3e50', r: 1.7, label: 'Wind speed', dy: 25 },
        { kind: 'line', color: RED, label: 'Daily mean', dy: 41 }
      ]
    }
  }
});

// ---- latitude
makeChart('latChart', { left: 779, top: 421 }, 'Latitude vs. Time', {
  type: 'scatter',
  xHeight: 60,
  datasets: [dotSet(latPoints, '#000', 2.6)],
  scales: {
    x: makeScale({ min: 2.59, max: 28.52, ticks: dateTicks, format: dateLabel, rotate: true, height: 60 }),
    y: makeScale({ min: -90, max: 90, ticks: latTicks, title: 'Latitude (deg)', titlePad: 22 })
  }
});

// ---- altitude
makeChart('altChart', { left: 0, top: 809 }, 'Balloon Altitude vs. Time', {
  type: 'scatter',
  xHeight: 70,
  datasets: [
    meanLine(altMeanDays, altMean),
    dotSet(altPoints, '#7f8c8d', 2.1)
  ],
  scales: {
    x: makeScale({ min: 1.76, max: 28.56, ticks: dateTicks, format: dateLabel, rotate: true, height: 70, title: 'UTC date', titlePad: 3 }),
    y: makeScale({ min: 12351, max: 13252, ticks: altTicks, title: 'Altitude (m AMSL)', titlePad: 8 })
  }
});

// ---- U and V histogram
const barStyle = { borderWidth: 1.2, barPercentage: 1, categoryPercentage: 1, grouped: false };
makeChart('histChart', { left: 779, top: 809 }, 'U and V Wind Components', {
  type: 'bar',
  xHeight: 50,
  datasets: [
    Object.assign({ label: 'V (meridional)', data: zip(binCentres, vCounts), backgroundColor: 'rgba(255,127,14,0.65)', borderColor: 'rgba(0,0,0,0.7)' }, barStyle),
    Object.assign({ label: 'U (zonal)', data: zip(binCentres, uCounts), backgroundColor: 'rgba(31,119,180,0.65)', borderColor: 'rgba(0,0,0,0.7)' }, barStyle)
  ],
  scales: {
    x: makeScale({ min: -100, max: 100, ticks: histXTicks, title: 'Wind speed (m s\u207B\u00B9)', titlePad: 0, height: 50 }),
    y: makeScale({ min: 0, max: 82.95, ticks: histYTicks, title: 'Frequency', titlePad: 34 })
  },
  panel: {
    legend: {
      right: 6, top: 5, w: 120, h: 34, swatchX: 5, swatchW: 22, textX: 31,
      items: [
        { kind: 'box', color: 'rgba(31,119,180,0.65)', edge: 'rgba(0,0,0,0.7)', label: 'U (zonal)', dy: 9.5 },
        { kind: 'box', color: 'rgba(255,127,14,0.65)', edge: 'rgba(0,0,0,0.7)', label: 'V (meridional)', dy: 24.5 }
      ]
    }
  }
});
</script>
</body>
</html>
